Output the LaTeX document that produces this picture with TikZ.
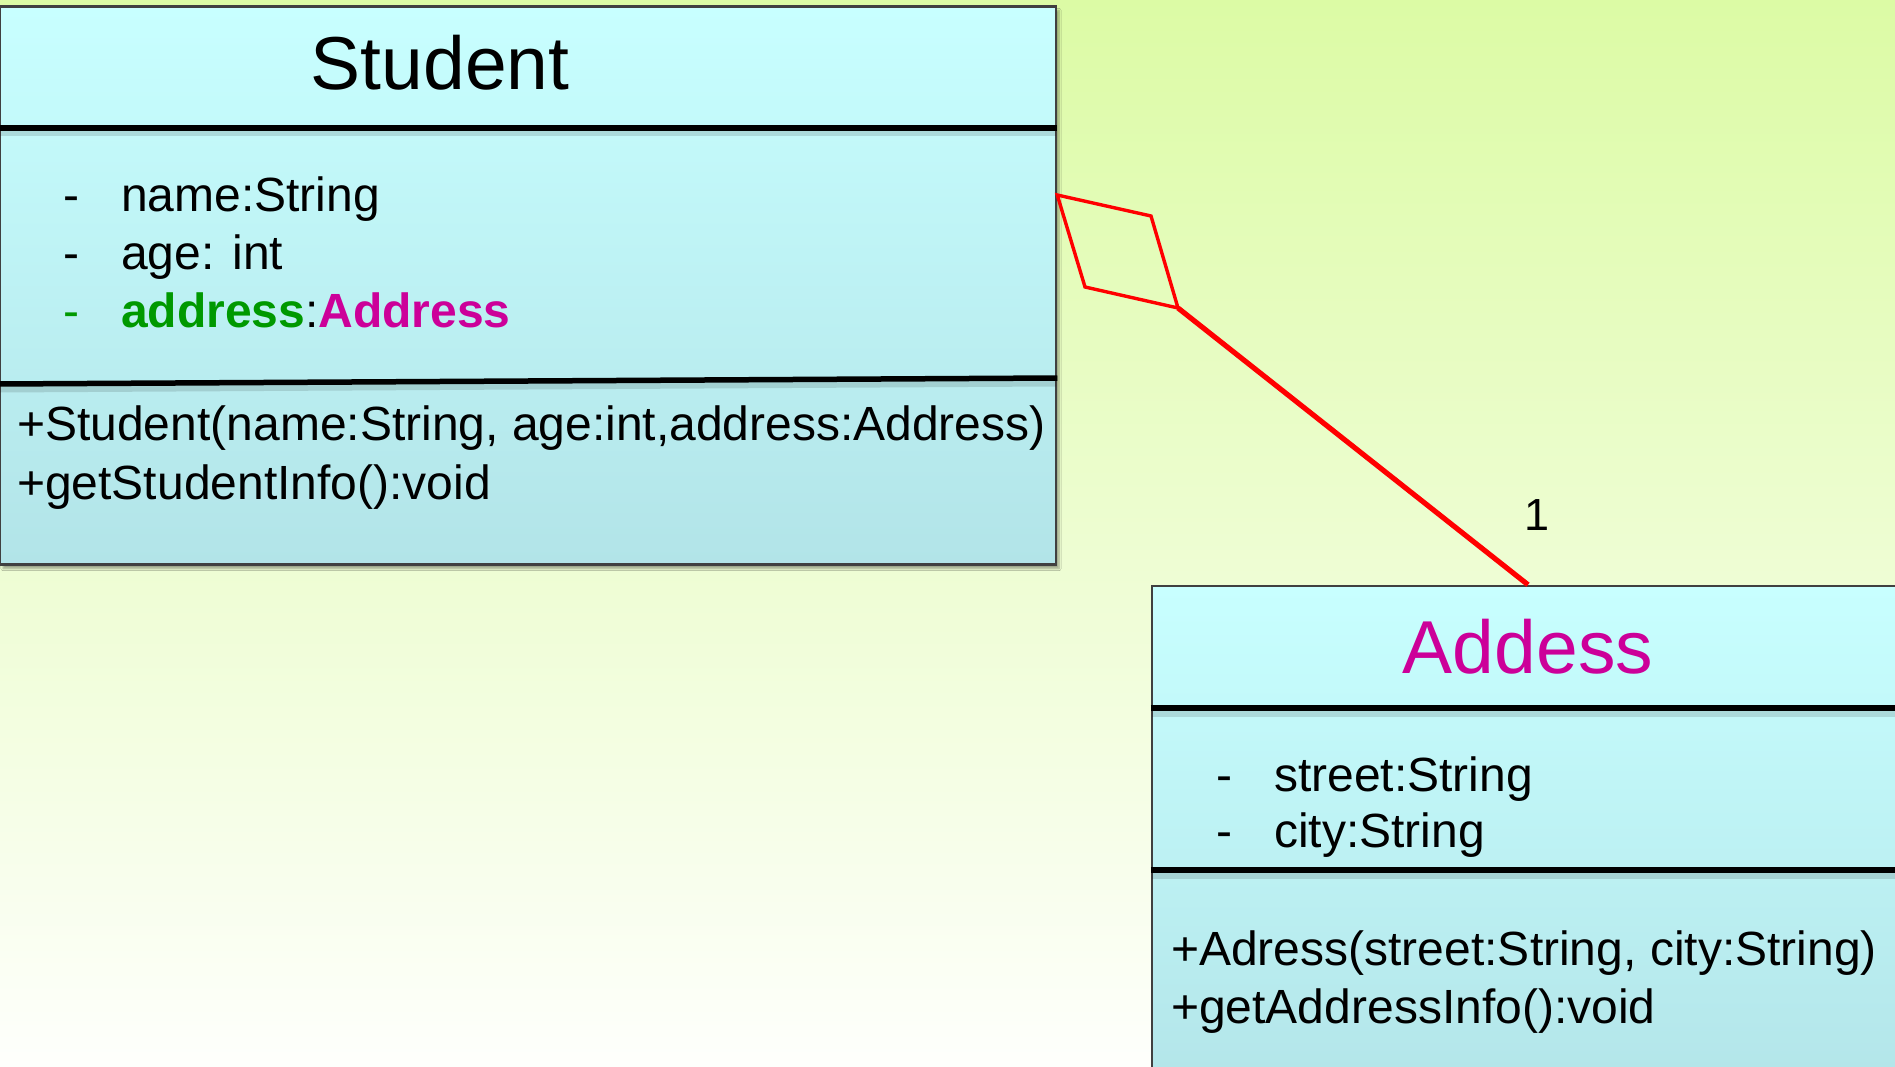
\documentclass[tikz,border=0pt]{standalone}
\usepackage{fontspec}
\setmainfont{Liberation Sans}
\usetikzlibrary{shadows.blur}

\definecolor{bgtop}{RGB}{220,251,165}
\definecolor{bgmid}{RGB}{237,251,212}
\definecolor{bgbot}{RGB}{254,255,252}
\definecolor{boxtop}{RGB}{200,255,255}
\definecolor{boxbot}{RGB}{178,228,232}
\definecolor{border}{RGB}{64,64,64}
\definecolor{attrgreen}{RGB}{0,153,0}
\definecolor{typemagenta}{RGB}{204,0,153}
\definecolor{linkred}{RGB}{255,0,0}

\tikzset{
  classbox/.style={rectangle, draw=border, line width=2.5pt, inner sep=0pt,
    top color=boxtop, bottom color=boxbot,
    blur shadow={shadow xshift=3pt, shadow yshift=-4pt,
                 shadow blur steps=6, shadow opacity=35}},
  divider/.style={line width=5.5pt, black},
  dividershade/.style={line width=9pt, black, opacity=0.12},
  classtitle/.style={font=\fontsize{75}{90}\selectfont, anchor=base, inner sep=0pt},
  member/.style={font=\fontsize{48}{56}\selectfont, anchor=base west, inner sep=0pt},
  mult/.style={font=\fontsize{45}{54}\selectfont, anchor=base, inner sep=0pt},
  diamondline/.style={draw=linkred, line width=3.4pt, line join=miter},
  linkline/.style={draw=linkred, line width=5.2pt},
}

\begin{document}
\begin{tikzpicture}[x=1pt,y=-1pt]
  % page and background
  \useasboundingbox (0,0) rectangle (1895,1067);
  \clip (0,0) rectangle (1895,1067);
  \shade[top color=bgtop, middle color=bgmid, bottom color=bgbot]
    (0,0) rectangle (1895,1067);

  % class Student
  \node[classbox, minimum width=1056pt, minimum height=558pt] (student) at (528,285.5) {};
  \draw[dividershade] (0,132) -- (1056,132);
  \draw[divider] (student.west |- 0,128) -- (student.east |- 0,128);
  \draw[dividershade] (0,388) -- (1056,382);
  \draw[divider] (student.west |- 0,384) -- (student.east |- 0,378);

  \node[classtitle] (stitle) at (440,90) {Student};
  \node[member] (sd1) at (63,212) {-};
  \node[member] (sa1) at (121,212) {name:String};
  \node[member] (sd2) at (63,270) {-};
  \node[member] (sa2) at (121,270) {age: int};
  \node[member, text=attrgreen] (sd3) at (63,327) {-};
  \node[member] (sa3) at (121,327)
    {\textcolor{attrgreen}{\bfseries address}:\textcolor{typemagenta}{\bfseries Address}};
  \node[member] (sm1) at (17,440) {+Student(name:String, age:int,address:Address)};
  \node[member] (sm2) at (17,499) {+getStudentInfo():void};

  % class Addess
  \node[classbox, minimum width=752pt, minimum height=524pt] (address) at (1528,848) {};
  \draw[dividershade] (1152,712) -- (1904,712);
  \draw[divider] (address.west |- 0,708) -- (address.east |- 0,708);
  \draw[dividershade] (1152,874) -- (1904,874);
  \draw[divider] (address.west |- 0,870) -- (address.east |- 0,870);

  \node[classtitle, text=typemagenta] (atitle) at (1528,673) {Addess};
  \node[member] (ad1) at (1216,791) {-};
  \node[member] (aa1) at (1274,791) {street:String};
  \node[member] (ad2) at (1216,847) {-};
  \node[member] (aa2) at (1274,847) {city:String};
  \node[member] (am1) at (1171,965) {+Adress(street:String, city:String)};
  \node[member] (am2) at (1171,1023) {+getAddressInfo():void};

  % aggregation: hollow diamond on Student, line to Addess
  \coordinate (dL) at (student.east |- 0,195);
  \coordinate (dT) at (1151,216);
  \coordinate (dR) at (1178,308);
  \coordinate (dB) at (1085,287);
  \draw[diamondline] (dL) -- (dT) -- (dR) -- (dB) -- cycle;
  \draw[linkline] (dR) -- (address.north);
  \node[mult] (m1) at (1537,530) {1};
\end{tikzpicture}
\end{document}
